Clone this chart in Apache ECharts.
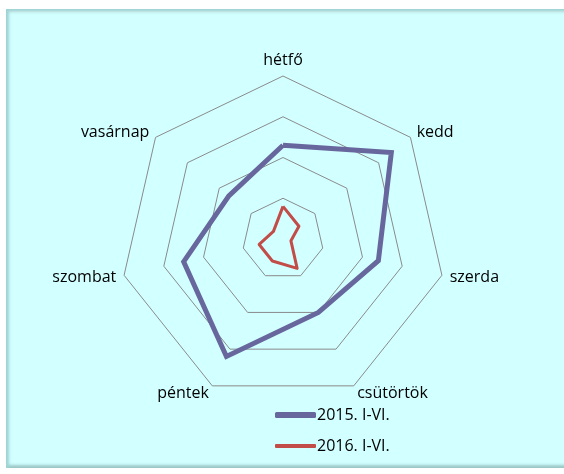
<!DOCTYPE html>
<html lang="hu">
  <head>
    <meta charset="UTF-8" />
    <title>Radar</title>
    <script src="https://cdn.jsdelivr.net/npm/echarts@6/dist/echarts.min.js"></script>
    <style>
      body { margin: 0; background: #fff; }
      #frame {
        position: absolute; left: 6px; top: 9px; width: 562px; height: 459px;
        background: #d2ffff;
        box-shadow: inset 4px 4px 3px -1px #9fd4d4, inset 0 3px 2px #ffffff, inset 0 -4px 3px -1px #9cc8c8;
      }
      #main { position: absolute; left: 0; top: 0; width: 564px; height: 474px; }
    </style>
  </head>
  <body>
    <div id="frame"></div>
    <div id="main"></div>
    <script>
      // napok (az óramutató járása szerint, hétfőtől)
      var days = ["hétfő", "kedd", "szerda", "csütörtök", "péntek", "szombat", "vasárnap"];
      var seriesNames = ["2015. I-VI.", "2016. I-VI."];
      var values2015 = [23, 34, 24, 20, 32, 25, 17];
      var values2016 = [8, 5, 2, 8, 6, 6, 3];
      var maxValue = 40;

      // az echarts az óramutatóval ellentétesen rakja le a tengelyeket, ezért megfordítjuk
      function clockwise(arr) {
        return [arr[0]].concat(arr.slice(1).reverse());
      }

      var chart = echarts.init(document.getElementById("main"));
      var font = "Open Sans";

      chart.setOption({
        animation: false,
        legend: [
          {
            data: [seriesNames[0]],
            left: 270, top: 402,
            itemWidth: 41, itemHeight: 6, itemGap: 0,
            icon: "roundRect",
            textStyle: { fontFamily: font, fontSize: 16, color: "#000", padding: [0, 0, 0, -4] },
          },
          {
            data: [seriesNames[1]],
            left: 270, top: 433,
            itemWidth: 41, itemHeight: 4, itemGap: 0,
            icon: "roundRect",
            textStyle: { fontFamily: font, fontSize: 16, color: "#000", padding: [0, 0, 0, -4] },
          },
        ],
        radar: {
          center: [283, 239],
          radius: 163,
          shape: "polygon",
          splitNumber: 4,
          nameGap: 8,
          indicator: clockwise(days).map(function (d) {
            return { name: d, max: maxValue, min: 0 };
          }),
          axisName: { fontFamily: font, fontSize: 16, color: "#000" },
          axisLine: { show: false },
          axisTick: { show: false },
          axisLabel: { show: false },
          splitArea: { show: false },
          splitLine: { lineStyle: { color: "#8a8a8a", width: 1 } },
        },
        series: [
          {
            type: "radar",
            symbol: "none",
            data: [
              {
                name: seriesNames[0],
                value: clockwise(values2015),
                itemStyle: { color: "#67679e" },
                lineStyle: { color: "#67679e", width: 5, join: "miter" },
              },
              {
                name: seriesNames[1],
                value: clockwise(values2016),
                itemStyle: { color: "#c24d48" },
                lineStyle: { color: "#c24d48", width: 3 },
              },
            ],
          },
        ],
      });
    </script>
  </body>
</html>
